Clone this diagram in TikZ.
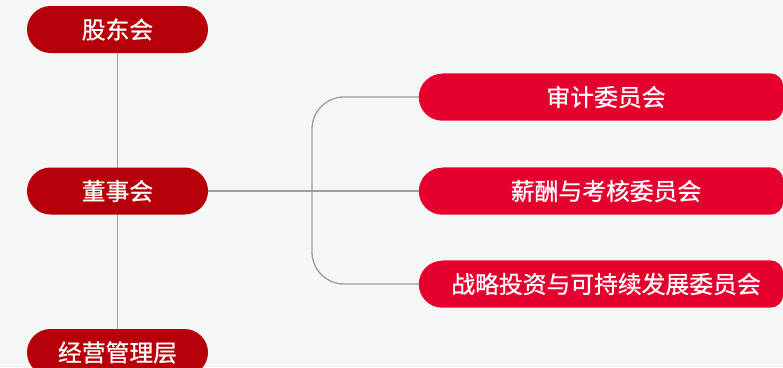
\documentclass[tikz,border=0pt]{standalone}
\usepackage{fontspec}
\newfontfamily\cjk[FakeBold=0.7]{Noto Sans CJK SC}
\usetikzlibrary{shapes.misc,backgrounds}
\definecolor{bgc}{HTML}{F5F7F7}
\definecolor{redL}{HTML}{B5000A}
\definecolor{redR}{HTML}{E6002D}
\definecolor{linec}{HTML}{9C9C9C}
\tikzset{
  x=1pt,y=1pt,
  leftbox/.style={rounded rectangle, fill=redL, text=white, minimum width=181pt, minimum height=47pt, inner sep=0pt, font=\cjk\fontsize{23.8}{24}\selectfont},
  rightbox/.style={rectangle, text=white, minimum width=364pt, minimum height=47pt, inner sep=0pt, font=\cjk\fontsize{23.8}{24}\selectfont},
  conn/.style={draw=linec, line width=1.3pt},
}
\newcommand{\rightshape}[1]{%
  \fill[redR] ([xshift=23.5pt]#1.north west) -- ([xshift=-13pt]#1.north east)
    arc[start angle=90,end angle=0,radius=13pt] -- ([yshift=13pt]#1.south east)
    arc[start angle=0,end angle=-90,radius=13pt] -- ([xshift=23.5pt]#1.south west)
    arc[start angle=270,end angle=90,radius=23.5pt] -- cycle;}
\begin{document}
\begin{tikzpicture}
\useasboundingbox (0,0) rectangle (783,-367);
\clip (0,0) rectangle (783,-367);
\node[leftbox] (gdh) at (117.5,-29.5) {股东会};
\node[leftbox] (dsh) at (117.5,-191) {董事会};
\node[leftbox] (jy) at (117.5,-352.5) {经营管理层};
\node[rightbox] (sj) at (601,-97) {\hspace*{10pt}审计委员会};
\node[rightbox] (xc) at (601,-191) {\hspace*{10pt}薪酬与考核委员会};
\node[rightbox] (zl) at (601,-284) {\hspace*{10pt}战略投资与可持续发展委员会};
\coordinate (br) at (312,-191);
\begin{scope}[on background layer]
  \fill[bgc] (0,0) rectangle (783,-367);
  \rightshape{sj}
  \rightshape{xc}
  \rightshape{zl}
  \draw[conn] (gdh.south) -- (jy.north);
  \draw[conn] (dsh.east) -- (xc.west);
  \draw[conn, rounded corners=32pt] (sj.west) -| (br) |- (zl.west);
\end{scope}
\end{tikzpicture}
\end{document}
